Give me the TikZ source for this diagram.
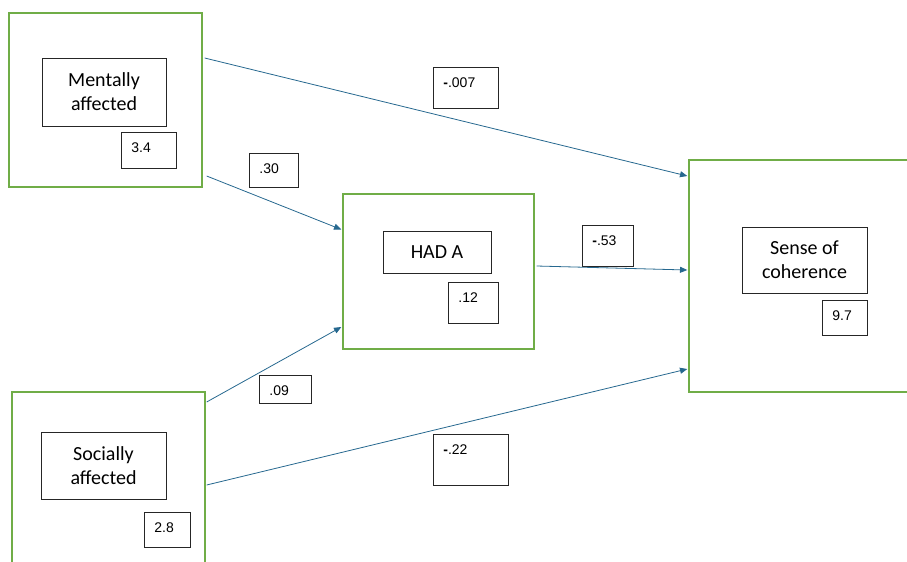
\documentclass[tikz,border=0pt]{standalone}
\usepackage{fontspec}
\setmainfont{Carlito}
\newfontfamily\numfont{Liberation Sans}
\usetikzlibrary{arrows.meta,positioning,calc}

\definecolor{boxgreen}{RGB}{112,173,71}
\definecolor{pathblue}{RGB}{38,104,143}

\begin{document}
\begin{tikzpicture}[x=0.75pt,y=-0.75pt,
    outer/.style={draw=boxgreen, line width=1pt},
    inner/.style={draw=black!85, line width=0.6pt, align=center,
        font=\fontsize{15}{18}\selectfont},
    coef/.style={draw=black!85, line width=0.6pt, anchor=north west, align=left,
        inner xsep=7.5pt, inner ysep=6pt, text height=8.7pt,
        font=\numfont\fontsize{10.5}{12}\selectfont},
    path/.style={draw=pathblue, line width=0.6pt, -{Triangle[length=5.5pt,width=4.5pt]}}]
    \clip (0,0) rectangle (907,561);

    % Latent blocks
    \node[outer, minimum width=144.75pt, minimum height=130.5pt] (ment) at (105.5,100) {};
    \node[outer, minimum width=143.25pt, minimum height=116.25pt] (hada) at (438.5,271.5) {};
    \node[outer, minimum width=172.5pt, minimum height=174pt] (sense) at (804,276) {};
    \node[outer, minimum width=144.75pt, minimum height=130.5pt] (social) at (108.5,479) {};

    % Variable names
    \node[inner, minimum width=93pt, minimum height=51pt] (mentname) at (104,92) {Mentally\\affected};
    \node[inner, minimum width=81pt, minimum height=31.5pt] (hadaname) at (437,252) {HAD A};
    \node[inner, minimum width=93.75pt, minimum height=49.5pt] (sensename) at (804.5,260) {Sense of\\coherence};
    \node[inner, minimum width=93.75pt, minimum height=50.25pt] (socialname) at (103.5,465.5) {Socially\\affected};

    % Coefficients
    \foreach \nm/\px/\py/\tw/\td/\val in {
        c34/121/132/26.25/6.3/3.4,
        c12/448/282/22.5/10.05/.12,
        c97/822/300/18.75/5.55/9.7,
        c28/144/512/19.5/5.55/2.8,
        cms/433/67/33.75/10.05/{\textbf{-}.007},
        chs/582/225/23.25/10.05/{\textbf{-}.53},
        cmh/249/153/21.75/4.8/.30,
        csh/259/375/24/0.3/.09,
        css/433/434/41.25/17.55/{\textbf{-}.22}} {
        \node[coef, text width=\tw pt, text depth=\td pt] (\nm) at (\px,\py) {\val};
    }

    % Paths
    \draw[path] ([shift={(2,-42)}]ment.east) -- ([shift={(-1,-100)}]sense.west);
    \draw[path] ([shift={(4,76)}]ment.east) -- ([shift={(-1,-42)}]hada.west);
    \draw[path] ([shift={(2,-5.5)}]hada.east) -- ([shift={(-1,-6)}]sense.west);
    \draw[path] ([shift={(1,-77)}]social.east) -- ([shift={(-1,55.5)}]hada.west);
    \draw[path] ([shift={(1,6)}]social.east) -- ([shift={(-1,93)}]sense.west);
\end{tikzpicture}
\end{document}
